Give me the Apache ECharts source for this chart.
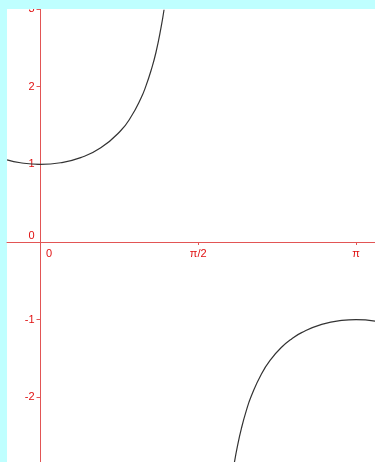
<!DOCTYPE html>
<html>
<head>
<meta charset="utf-8" />
<title>sec x</title>
<script src="https://cdn.jsdelivr.net/npm/echarts@6/dist/echarts.min.js"></script>
<style>
  html, body { margin: 0; padding: 0; background: #bfffff; }
  #container { width: 375px; height: 462px; }
</style>
</head>
<body>
<div id="container"></div>
<script>
// points (x in radians)
var leftX = [-0.333, -0.2, 0, 0.2, 0.4, 0.6, 0.8, 0.9, 1.0, 1.05, 1.1, 1.15, 1.2, 1.23];
var leftY = [1.058, 1.02, 1.0, 1.02, 1.086, 1.212, 1.435, 1.609, 1.851, 2.01, 2.205, 2.443, 2.76, 2.99];
var rightX = [1.93, 1.96, 2.0, 2.05, 2.1, 2.2, 2.3, 2.4, 2.5, 2.6, 2.8, 3.0, 3.1416, 3.331];
var rightY = [-2.845, -2.635, -2.403, -2.169, -1.981, -1.699, -1.501, -1.356, -1.248, -1.167, -1.061, -1.01, -1.0, -1.019];
var xTicks = [0, Math.PI / 2, Math.PI];
var xTickLabels = ['0', 'π/2', 'π'];
var yTicks = [-2, -1, 0, 1, 2, 3];

function zip(xs, ys) {
  return xs.map(function (x, i) { return [x, ys[i]]; });
}

var red = '#e25555';
var labelRed = '#e01010';
var cyan = '#bfffff';

var chart = echarts.init(document.getElementById('container'));
var option = {
  animation: false,
  backgroundColor: cyan,
  // top band sits over the plot and clips the "3"
  graphic: [{
    type: 'rect', z: 100, silent: true,
    shape: { x: 0, y: 0, width: 375, height: 9 },
    style: { fill: cyan }
  }],
  grid: {
    left: 7, top: 9, right: 0, bottom: 0,
    outerBoundsMode: 'none', containLabel: false,
    show: true, backgroundColor: '#ffffff', borderWidth: 0
  },
  xAxis: {
    type: 'value',
    position: 'bottom',
    offset: -220,  // axes cross at the origin
    min: -0.3336, max: 3.3307,
    splitLine: { show: false },
    axisLine: { onZero: false, lineStyle: { color: red, width: 1 } },
    axisTick: { show: true, length: 3, lineStyle: { color: red }, customValues: [Math.PI / 2, Math.PI] },
    axisLabel: {
      color: labelRed, fontSize: 11, fontFamily: 'Liberation Sans', margin: 6,
      customValues: xTicks,
      formatter: function (v) {
        var i = xTicks.indexOf(v);
        if (i === 0) return '{z|0}';
        return i >= 0 ? xTickLabels[i] : '';
      },
      rich: { z: { color: labelRed, fontSize: 11, fontFamily: 'Liberation Sans', padding: [0, 0, 0, 17] } }
    }
  },
  yAxis: {
    type: 'value',
    position: 'left',
    offset: -33.5,
    min: -2.833, max: 3.0,
    splitLine: { show: false },
    axisLine: { onZero: false, lineStyle: { color: red, width: 1 } },
    axisTick: { show: true, length: 4, lineStyle: { color: red }, customValues: [-2, -1, 1, 2, 3] },
    axisLabel: {
      color: labelRed, fontSize: 11, fontFamily: 'Liberation Sans', margin: 6,
      customValues: yTicks,
      formatter: function (v) {
        if (v === 0) return '{z|0}';
        return String(v);
      },
      rich: { z: { color: labelRed, fontSize: 11, fontFamily: 'Liberation Sans', padding: [0, 0, 12, 0] } }
    }
  },
  series: [
    {
      type: 'line', data: zip(leftX, leftY), smooth: true,
      symbol: 'none', clip: true,
      lineStyle: { color: '#333333', width: 1.2 }
    },
    {
      type: 'line', data: zip(rightX, rightY), smooth: true,
      symbol: 'none', clip: true,
      lineStyle: { color: '#333333', width: 1.2 }
    }
  ]
};
chart.setOption(option);
</script>
</body>
</html>
